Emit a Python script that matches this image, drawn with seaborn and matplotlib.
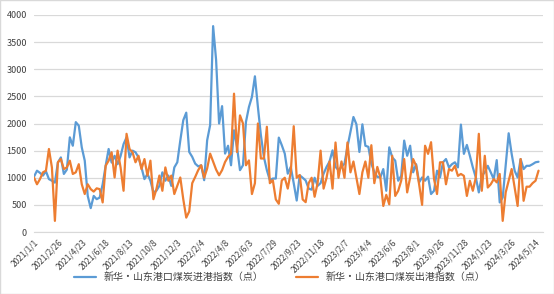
import numpy as np
import pandas as pd
import matplotlib
matplotlib.use("Agg")
import matplotlib.pyplot as plt
import seaborn as sns

inbound = [1020, 1130, 1090, 1040, 1120, 975, 945, 910, 1280, 1375,
           1070, 1150, 1745, 1590, 2025, 1960, 1560, 1315, 665, 440,
           665, 605, 635, 880, 1220, 1530, 1280, 1405, 1250, 1400,
           1620, 1745, 1375, 1500, 1470, 1375, 1190, 975, 1070, 945,
           730, 760, 850, 1100, 945, 1040, 850, 1190, 1285, 1685,
           2060, 2200, 1475, 1385, 1260, 1210, 1230, 955, 1690, 1970,
           3795, 3170, 2000, 2320, 1445, 1590, 1230, 1875, 1570, 1140,
           1230, 2030, 2305, 2490, 2870, 2305, 1785, 1385, 1140, 955,
           985, 985, 1740, 1600, 1445, 1075, 1200, 900, 580, 1045,
           1000, 950, 800, 780, 1000, 850, 900, 1075, 1200, 1300,
           1505, 1200, 1140, 1200, 1260, 1570, 1845, 2120, 1985, 1475,
           1985, 1590, 1570, 1260, 1105, 1015, 1005, 1160, 760, 1560,
           1375, 1315, 945, 1035, 1685, 1405, 1590, 1100, 1250, 915,
           1005, 945, 1020, 700, 760, 1130, 1005, 1285, 1345, 1190,
           1250, 1285, 1190, 1980, 1440, 1605, 1405, 1190, 1005, 730,
           1035, 1100, 1220, 1100, 975, 1325, 545, 635, 1220, 1820,
           1440, 1130, 1005, 1345, 1160, 1220, 1220, 1250, 1285, 1295]

outbound = [1005, 880, 975, 1100, 1130, 1530, 1190, 205, 1285, 1345,
            1160, 1190, 1315, 1070, 1100, 1250, 880, 700, 880, 790,
            745, 805, 790, 545, 1220, 1315, 1470, 1005, 1500, 1190,
            760, 1810, 1530, 1470, 1285, 1405, 1160, 1345, 1040, 1315,
            605, 790, 1040, 760, 1190, 945, 1040, 700, 850, 1005,
            605, 265, 380, 900, 1015, 1140, 1230, 1000, 1170, 1445,
            1300, 1150, 1045, 1140, 1290, 1385, 1445, 2550, 1475, 2150,
            2000, 1230, 1320, 700, 900, 2000, 1355, 1355, 1940, 900,
            955, 600, 520, 950, 1000, 800, 1100, 1950, 1000, 1050,
            600, 550, 900, 1000, 650, 900, 1500, 800, 1000, 1300,
            800, 1650, 1000, 1300, 1000, 1650, 1100, 1300, 1000, 700,
            1100, 1300, 1000, 1600, 900, 1200, 1005, 480, 685, 510,
            1405, 665, 760, 945, 1345, 730, 1005, 1345, 1220, 880,
            500, 1590, 1440, 1655, 975, 700, 1285, 1285, 880, 1160,
            1130, 1220, 1035, 1070, 1035, 665, 945, 760, 1005, 1810,
            760, 1405, 820, 880, 975, 915, 1070, 205, 730, 945,
            1160, 820, 480, 1345, 575, 835, 835, 900, 945, 1130]

date_labels = ['2021/1/1', '2021/2/26', '2021/4/23', '2021/6/18', '2021/8/13',
               '2021/10/8', '2021/12/3', '2022/2/4', '2022/4/8', '2022/6/3',
               '2022/7/29', '2022/9/23', '2022/11/18', '2023/2/7', '2023/4/4',
               '2023/6/6', '2023/8/1', '2023/9/26', '2023/11/28', '2024/1/23',
               '2024/3/26', '2024/5/14']

names = ['新华・山东港口煤炭进港指数（点）', '新华・山东港口煤炭出港指数（点）']
colors = ['#5B9BD5', '#ED7D31']

n = len(inbound)
df = pd.DataFrame({
    'idx': list(range(n)) * 2,
    'value': inbound + outbound,
    'series': [names[0]] * n + [names[1]] * n,
})

sns.set_style('white')
plt.rcParams['font.family'] = ['Noto Sans CJK SC', 'DejaVu Sans']

fig = plt.figure(figsize=(5.54, 2.94), dpi=100)
ax = fig.add_axes([34 / 554, 1 - 232 / 294, (543 - 34) / 554, (232 - 15) / 294])

sns.lineplot(data=df, x='idx', y='value', hue='series', palette=colors,
             linewidth=1.6, ax=ax, legend=True)

ax.set_xlim(0, 170.5)
ax.set_ylim(0, 4000)
ax.set_yticks(np.arange(0, 4001, 500))
ax.yaxis.grid(True, color='#D9D9D9', linewidth=0.9)
ax.set_axisbelow(True)
for s in ['top', 'right', 'left']:
    ax.spines[s].set_visible(False)
ax.spines['bottom'].set_color('#D9D9D9')

ax.set_xticks(np.arange(0, 8 * len(date_labels), 8))
ax.set_xticklabels(date_labels, rotation=45, ha='right', rotation_mode='anchor')
ax.set_xticks(np.linspace(0, 168, 16), minor=True)
ax.tick_params(axis='x', which='major', length=0, labelsize=6, colors='#404040', pad=4)
ax.tick_params(axis='x', which='minor', length=4, color='#D9D9D9', width=0.9)
ax.tick_params(axis='y', length=0, labelsize=6.5, colors='#404040', pad=5)
ax.set_xlabel('')
ax.set_ylabel('')

ax.legend_.remove()
handles, labels = ax.get_legend_handles_labels()
fig.legend(handles, labels, loc='center', bbox_to_anchor=(0.505, 1 - 277 / 294),
           ncol=2, frameon=False, fontsize=7.2, handlelength=2.2,
           columnspacing=3.2, labelcolor='#404040')

fig.patches.append(plt.Rectangle((0, 0), 1, 1, transform=fig.transFigure,
                                 fill=False, edgecolor='#D9D9D9', linewidth=1))

plt.savefig('out.png', dpi=100)
